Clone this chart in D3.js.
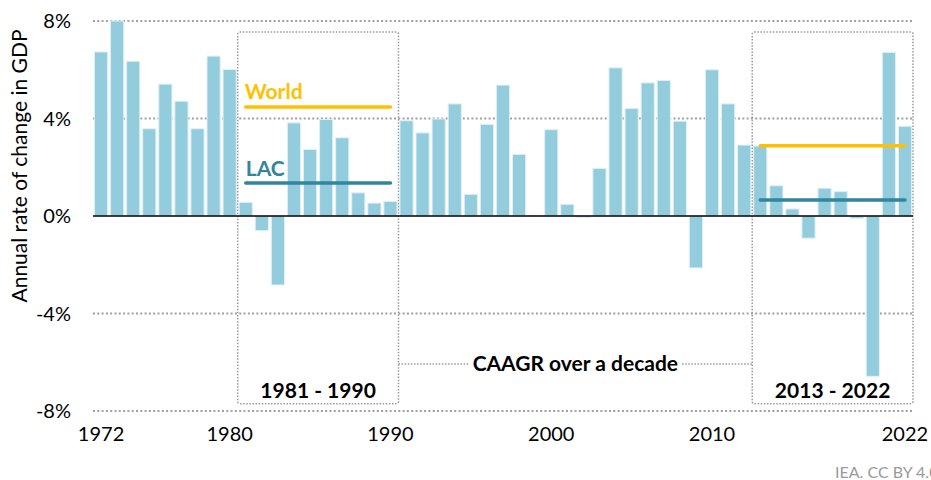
<!DOCTYPE html>
<html>
<head>
<meta charset="utf-8">
<script src="https://cdn.jsdelivr.net/npm/d3@7"></script>
<style>
  html, body { margin: 0; padding: 0; background: #fff; }
  svg { display: block; font-family: Lato, "Open Sans", sans-serif; }
</style>
</head>
<body>
<div id="chart"></div>
<script>
// annual GDP growth, Latin America & Caribbean
const years = d3.range(1972, 2023);
const growth = [
  6.73, 8.0, 6.35, 3.58, 5.41, 4.71, 3.58, 6.56, 6.01,      // 1972-1980
  0.56, -0.60, -2.83, 3.82, 2.73, 3.96, 3.21, 0.95, 0.53, 0.60, // 1981-1990
  3.91, 3.41, 3.98, 4.60, 0.89, 3.76, 5.37, 2.53, 0.02, 3.54,   // 1991-2000
  0.48, -0.05, 1.95, 6.08, 4.41, 5.46, 5.56, 3.89, -2.13, 6.0,  // 2001-2010
  4.60, 2.91, 2.87, 1.24, 0.29, -0.91, 1.14, 1.00, -0.09, -6.58, // 2011-2020
  6.71, 3.68
];

// decade averages (CAAGR)
const periods = ["1981 - 1990", "2013 - 2022"];
const periodStart = [1981, 2013];
const periodEnd = [1990, 2022];
const worldCaagr = [4.47, 2.88];
const lacCaagr = [1.35, 0.66];

const yTicks = [-8, -4, 0, 4, 8];
const xTicks = [1972, 1980, 1990, 2000, 2010, 2022];

const width = 931, height = 480;
const plotLeft = 93, plotRight = 913, plotTop = 21, plotBottom = 411;

const svg = d3.select("#chart").append("svg")
  .attr("width", width)
  .attr("height", height);

const x = d3.scaleBand().domain(years).range([plotLeft, plotRight]).padding(0);
const y = d3.scaleLinear().domain([-8, 8]).range([plotBottom, plotTop]);
const bw = x.bandwidth();

// gridlines
svg.append("g").selectAll("line")
  .data(yTicks.filter(d => d !== 0))
  .join("line")
  .attr("x1", plotLeft).attr("x2", plotRight)
  .attr("y1", d => y(d)).attr("y2", d => y(d))
  .attr("stroke", "#a0a0a0")
  .attr("stroke-width", 2)
  .attr("stroke-dasharray", "2 2.3");

// dotted decade boxes
const boxTop = y(7.55), boxBottom = y(-7.7);
const boxes = svg.append("g");
periods.forEach((p, i) => {
  const x0 = x(periodStart[i]), x1 = x(periodEnd[i]) + bw;
  boxes.append("rect")
    .attr("x", x0).attr("y", boxTop)
    .attr("width", x1 - x0).attr("height", boxBottom - boxTop)
    .attr("rx", 2)
    .attr("fill", "none")
    .attr("stroke", "#999")
    .attr("stroke-width", 1.5)
    .attr("stroke-dasharray", "1.5 1.6");
});

// bars
svg.append("g").selectAll("rect")
  .data(years)
  .join("rect")
  .attr("x", d => x(d) + bw * 0.09)
  .attr("width", bw * 0.82)
  .attr("y", (d, i) => y(Math.max(0, growth[i])))
  .attr("height", (d, i) => Math.abs(y(growth[i]) - y(0)))
  .attr("fill", "#93cddd")
  .attr("stroke", "#dff0f5")
  .attr("stroke-width", 1);

// zero line
svg.append("line")
  .attr("x1", plotLeft).attr("x2", plotRight)
  .attr("y1", y(0)).attr("y2", y(0))
  .attr("stroke", "#000")
  .attr("stroke-width", 1.5);

// CAAGR lines
const lines = svg.append("g");
periods.forEach((p, i) => {
  const x0 = x(periodStart[i]) + bw / 2, x1 = x(periodEnd[i]) + bw / 2;
  lines.append("line")
    .attr("x1", x0).attr("x2", x1)
    .attr("y1", y(worldCaagr[i])).attr("y2", y(worldCaagr[i]))
    .attr("stroke", "#ffc000").attr("stroke-width", 3.5)
    .attr("stroke-linecap", "round");
  lines.append("line")
    .attr("x1", x0).attr("x2", x1)
    .attr("y1", y(lacCaagr[i])).attr("y2", y(lacCaagr[i]))
    .attr("stroke", "#31859c").attr("stroke-width", 3.5)
    .attr("stroke-linecap", "round");
  // period label
  svg.append("text")
    .attr("x", (x(periodStart[i]) + x(periodEnd[i]) + bw) / 2)
    .attr("y", 398)
    .attr("text-anchor", "middle")
    .attr("font-size", 21).attr("font-weight", 700)
    .attr("fill", "#000")
    .text(p);
});

// series labels
svg.append("text")
  .attr("x", x(periodStart[0]) + bw / 2 - 1)
  .attr("y", y(worldCaagr[0]) - 8)
  .attr("font-size", 21).attr("font-weight", 700)
  .attr("fill", "#ffc000")
  .text("World");
svg.append("text")
  .attr("x", x(periodStart[0]) + bw / 2)
  .attr("y", y(lacCaagr[0]) - 7)
  .attr("font-size", 21).attr("font-weight", 700)
  .attr("fill", "#31859c")
  .text("LAC");

// CAAGR note with connectors
const noteY = y(-6.07);
const gapL = x(periodEnd[0]) + bw, gapR = x(periodStart[1]);
const note = svg.append("text")
  .attr("x", (gapL + gapR) / 2)
  .attr("y", noteY)
  .attr("dy", "0.35em")
  .attr("text-anchor", "middle")
  .attr("font-size", 21).attr("font-weight", 700)
  .attr("fill", "#000")
  .text("CAAGR over a decade");
const tw = note.node().getComputedTextLength();
[[gapL, (gapL + gapR) / 2 - tw / 2 - 4], [(gapL + gapR) / 2 + tw / 2 + 4, gapR]].forEach(s => {
  svg.append("line")
    .attr("x1", s[0]).attr("x2", s[1])
    .attr("y1", noteY).attr("y2", noteY)
    .attr("stroke", "#999")
    .attr("stroke-width", 1.5)
    .attr("stroke-dasharray", "1.5 1.6");
});

// y axis labels
svg.append("g").selectAll("text")
  .data(yTicks)
  .join("text")
  .attr("x", 71)
  .attr("y", d => y(d))
  .attr("dy", "0.36em")
  .attr("text-anchor", "end")
  .attr("font-size", 20)
  .attr("fill", "#000")
  .text(d => d + "%");

// x axis labels
svg.append("g").selectAll("text")
  .data(xTicks)
  .join("text")
  .attr("x", d => x(d) + bw / 2)
  .attr("y", 441)
  .attr("text-anchor", "middle")
  .attr("font-size", 20)
  .attr("fill", "#000")
  .text(d => d);

// y axis title
svg.append("text")
  .attr("transform", `translate(27,${(plotTop + plotBottom) / 2 - 50}) rotate(-90)`)
  .attr("text-anchor", "middle")
  .attr("font-size", 21)
  .attr("fill", "#000")
  .text("Annual rate of change in GDP");

// source
svg.append("text")
  .attr("x", 835)
  .attr("y", 478)
  .attr("font-size", 16)
  .attr("fill", "#9a9a9a")
  .text("IEA. CC BY 4.0");
</script>
</body>
</html>
